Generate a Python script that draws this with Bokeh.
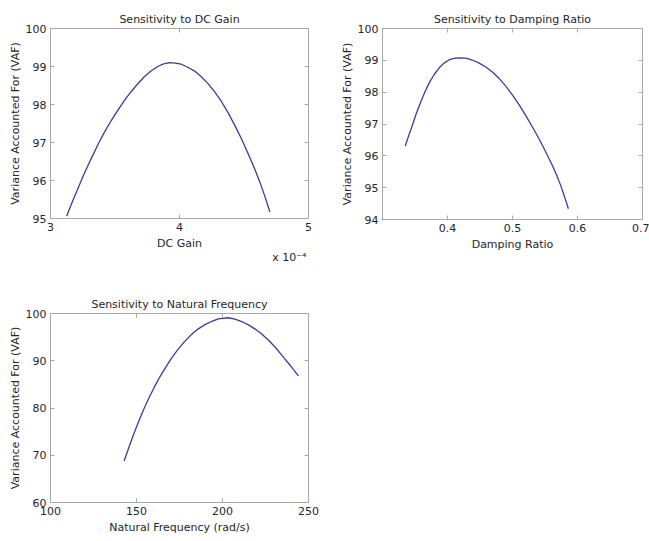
from bokeh.plotting import figure
from bokeh.models import LinearAxis, FixedTicker, CustomJSTickFormatter, Range1d, Title
from bokeh.layouts import column, row
from bokeh.embed import file_html
from bokeh.resources import INLINE

# ---- data ----
dc_gain = [3.125e-4, 3.170e-4, 3.208e-4, 3.260e-4, 3.312e-4, 3.364e-4, 3.416e-4, 3.468e-4,
           3.520e-4, 3.572e-4, 3.623e-4, 3.675e-4, 3.727e-4, 3.779e-4, 3.831e-4, 3.877e-4,
           3.922e-4, 3.967e-4, 4.013e-4, 4.065e-4, 4.117e-4, 4.169e-4, 4.221e-4, 4.273e-4,
           4.325e-4, 4.377e-4, 4.429e-4, 4.481e-4, 4.533e-4, 4.580e-4, 4.624e-4, 4.663e-4,
           4.701e-4]
vaf_dc = [95.06, 95.45, 95.75, 96.17, 96.55, 96.92, 97.26, 97.56,
          97.84, 98.10, 98.33, 98.54, 98.73, 98.88, 99.00, 99.07,
          99.10, 99.09, 99.06, 98.98, 98.88, 98.73, 98.55, 98.33,
          98.08, 97.78, 97.45, 97.09, 96.70, 96.33, 95.95, 95.57,
          95.17]

damping = [0.335, 0.340, 0.346, 0.352, 0.359, 0.365, 0.372, 0.380, 0.388, 0.395,
           0.403, 0.412, 0.421, 0.430, 0.438, 0.448, 0.459, 0.470, 0.480, 0.490,
           0.500, 0.510, 0.520, 0.530, 0.541, 0.551, 0.561, 0.568, 0.574, 0.580, 0.586]
vaf_damp = [96.31, 96.62, 96.96, 97.33, 97.70, 98.00, 98.30, 98.57, 98.78, 98.92,
            99.02, 99.07, 99.08, 99.06, 99.01, 98.92, 98.79, 98.62, 98.42, 98.18,
            97.91, 97.61, 97.28, 96.93, 96.53, 96.13, 95.71, 95.39, 95.08, 94.72, 94.34]

nat_freq = [142.8, 145.6, 148.4, 151.3, 154.3, 157.2, 160.2, 163.6, 167.1, 170.5,
            173.9, 177.8, 181.8, 185.7, 189.6, 193.5, 197.5, 203.3, 207.2, 211.2,
            215.1, 219.0, 223.0, 226.9, 230.8, 234.7, 239.4, 244.1]
vaf_freq = [68.8, 71.7, 74.5, 77.2, 79.8, 82.1, 84.3, 86.6, 88.7, 90.6,
            92.3, 94.0, 95.5, 96.7, 97.6, 98.3, 98.85, 99.1, 98.8, 98.3,
            97.6, 96.7, 95.6, 94.3, 92.8, 91.1, 89.0, 86.8]

dc_xticks = [3e-4, 4e-4, 5e-4]
dc_yticks = [95, 96, 97, 98, 99, 100]
damp_xticks = [0.4, 0.5, 0.6, 0.7]
damp_yticks = [94, 95, 96, 97, 98, 99, 100]
freq_xticks = [100, 150, 200, 250]
freq_yticks = [60, 70, 80, 90, 100]

titles = ["Sensitivity to DC Gain", "Sensitivity to Damping Ratio", "Sensitivity to Natural Frequency"]
xlabels = ["DC Gain", "Damping Ratio", "Natural Frequency (rad/s)"]
ylabel = "Variance Accounted For (VAF)"
dc_exponent = "x 10\u207b\u2074"

FONT = "DejaVu Sans"
TXT = "#262626"
AX = "#a8a8a8"
LINE = "#3b3b9e"


def style_axis(ax, ticks, show_labels=True):
    ax.ticker = FixedTicker(ticks=ticks)
    ax.axis_line_color = AX
    ax.major_tick_line_color = AX
    ax.major_tick_in = 4
    ax.major_tick_out = 0
    ax.minor_tick_line_color = None
    ax.major_label_text_font = FONT
    ax.major_label_text_color = TXT
    ax.major_label_text_font_size = "11px"
    ax.axis_label_text_font = FONT
    ax.axis_label_text_color = TXT
    ax.axis_label_text_font_style = "normal"
    ax.axis_label_text_font_size = "11px"
    if show_labels:
        ax.major_label_standoff = 4
    else:
        ax.formatter = CustomJSTickFormatter(code="return '';")
        ax.major_label_standoff = 0


def make(title, xr, yr, xticks, yticks, xlabel, fw, fh, ml, mr, mt, mb):
    p = figure(output_backend="svg", toolbar_location=None,
               frame_width=fw, frame_height=fh,
               x_range=Range1d(*xr), y_range=Range1d(*yr),
               min_border_left=ml, min_border_right=mr,
               min_border_top=mt, min_border_bottom=mb,
               title=title, background_fill_color="white",
               border_fill_color="white")
    p.grid.visible = False
    p.outline_line_color = AX
    p.title.align = "center"
    p.title.text_font = FONT
    p.title.text_font_size = "11px"
    p.title.text_font_style = "normal"
    p.title.text_color = TXT
    p.title.standoff = 6
    main_x = p.xaxis[0]
    main_y = p.yaxis[0]
    style_axis(main_x, xticks)
    style_axis(main_y, yticks)
    main_x.axis_label = xlabel
    main_y.axis_label = ylabel
    main_x.axis_label_standoff = 3
    main_y.axis_label_standoff = 1
    top = LinearAxis()
    style_axis(top, xticks, show_labels=False)
    right = LinearAxis()
    style_axis(right, yticks, show_labels=False)
    p.add_layout(top, "above")
    p.add_layout(right, "right")
    return p, main_x


p1, p1x = make(titles[0], (3e-4, 5e-4), (95, 100), dc_xticks, dc_yticks, xlabels[0],
               258, 190, 50, 17, 28, 52)
p1x.formatter = CustomJSTickFormatter(code="return (tick*1e4).toFixed(0);")
p1.line(dc_gain, vaf_dc, line_color=LINE, line_width=1.3)
p1.add_layout(Title(text=dc_exponent, align="right", text_font=FONT, text_font_size="11px",
                    text_font_style="normal", text_color=TXT, standoff=-22, offset=2), "below")

p2, _ = make(titles[1], (0.3, 0.7), (94, 100), damp_xticks, damp_yticks, xlabels[1],
             260, 191, 57, 7, 28, 51)
p2.line(damping, vaf_damp, line_color=LINE, line_width=1.3)

p3, _ = make(titles[2], (100, 250), (60, 100), freq_xticks, freq_yticks, xlabels[2],
             258, 189, 50, 17, 43, 39)
p3.line(nat_freq, vaf_freq, line_color=LINE, line_width=1.3)

layout = column(row(p1, p2), p3)
open("out.html", "w").write(file_html(layout, INLINE))
